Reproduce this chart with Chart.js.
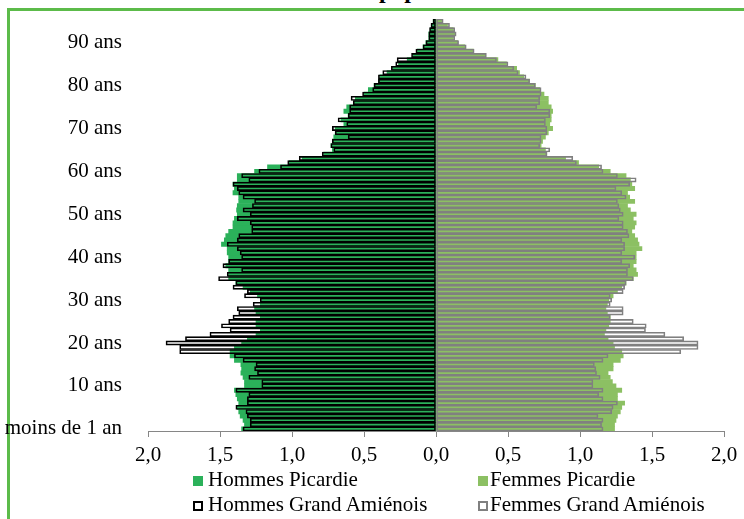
<!DOCTYPE html>
<html>
<head>
<meta charset="utf-8">
<script src="https://cdn.jsdelivr.net/npm/chart.js@4.4.1/dist/chart.umd.min.js"></script>
<style>
body{margin:0;background:#fff}
#wrap{position:relative;width:744px;height:519px;overflow:hidden;font-family:"Liberation Serif","Times New Roman",serif;color:#000}
#frame{position:absolute;left:7px;top:8px;width:760px;height:540px;border-top:3px solid #5cbb4a;border-left:3px solid #5cbb4a}
#title{position:absolute;left:379px;top:-22px;font-size:24px;line-height:24px;font-weight:bold;white-space:nowrap}
canvas{position:absolute;left:0;top:0}
.lg{position:absolute;font-size:21px;line-height:21px;white-space:nowrap}
.mk{position:absolute;width:10px;height:10px;box-sizing:border-box}
</style>
</head>
<body>
<div id="wrap">
<div id="title">population</div>
<div id="frame"></div>
<canvas id="chart" width="744" height="519"></canvas>
<div class="mk" style="left:193px;top:476px;background:#2bb15a"></div>
<div class="lg" style="left:208px;top:469px">Hommes Picardie</div>
<div class="mk" style="left:478px;top:476px;background:#8cc063"></div>
<div class="lg" style="left:490px;top:469px">Femmes Picardie</div>
<div class="mk" style="left:193px;top:501px;border:2px solid #000"></div>
<div class="lg" style="left:208px;top:494px">Hommes Grand Amiénois</div>
<div class="mk" style="left:478px;top:501px;border:2px solid #808080"></div>
<div class="lg" style="left:490px;top:494px">Femmes Grand Amiénois</div>
</div>
<script>
// ages 0 (moins de 1 an) to 95, bottom to top
const ages=Array.from({length:96},(_,i)=>i)

const tickLabels={0:"moins de 1 an",10:"10 ans",20:"20 ans",30:"30 ans",40:"40 ans",50:"50 ans",60:"60 ans",70:"70 ans",80:"80 ans",90:"90 ans"}

// % of population per age
const hommesPicardie=[
1.35,1.33,1.34,1.36,1.37,1.38,1.37,1.38,1.39,1.40,
1.33,1.33,1.34,1.355,1.35,1.355,1.40,1.43,1.43,1.40,
1.35,1.31,1.25,1.22,1.25,1.25,1.22,1.25,1.26,1.22,
1.21,1.24,1.29,1.34,1.39,1.44,1.44,1.44,1.46,1.44,
1.44,1.45,1.45,1.49,1.47,1.46,1.44,1.41,1.41,1.40,
1.38,1.385,1.38,1.37,1.37,1.41,1.40,1.41,1.38,1.38,
1.26,1.17,1.02,0.93,0.78,0.72,0.73,0.72,0.71,0.70,
0.70,0.64,0.66,0.61,0.64,0.62,0.57,0.56,0.50,0.47,
0.43,0.40,0.39,0.34,0.30,0.26,0.20,0.16,0.13,0.09,
0.07,0.05,0.05,0.04,0.03,0.02]

const hommesAmienois=[
1.34,1.29,1.29,1.31,1.32,1.39,1.31,1.31,1.30,1.39,
1.21,1.21,1.30,1.24,1.26,1.25,1.34,1.40,1.78,1.78,
1.875,1.74,1.57,1.43,1.49,1.44,1.41,1.37,1.38,1.27,
1.22,1.33,1.31,1.41,1.39,1.51,1.45,1.35,1.48,1.44,
1.35,1.36,1.38,1.45,1.38,1.37,1.28,1.28,1.29,1.38,
1.29,1.34,1.275,1.26,1.34,1.37,1.38,1.41,1.30,1.35,
1.23,1.08,1.03,0.95,0.79,0.71,0.73,0.72,0.61,0.70,
0.72,0.62,0.68,0.61,0.60,0.60,0.575,0.59,0.51,0.44,
0.43,0.40,0.40,0.37,0.31,0.28,0.27,0.17,0.14,0.09,
0.07,0.05,0.05,0.045,0.035,0.02]

const femmesPicardie=[
1.24,1.24,1.25,1.26,1.28,1.29,1.31,1.26,1.26,1.29,
1.25,1.225,1.21,1.195,1.23,1.23,1.28,1.30,1.29,1.24,
1.23,1.195,1.17,1.18,1.20,1.21,1.21,1.19,1.18,1.19,
1.20,1.23,1.26,1.29,1.32,1.37,1.40,1.39,1.37,1.39,
1.39,1.39,1.43,1.41,1.40,1.38,1.36,1.38,1.39,1.37,
1.39,1.35,1.33,1.38,1.345,1.33,1.38,1.36,1.35,1.32,
1.21,1.13,0.99,0.90,0.77,0.76,0.73,0.74,0.76,0.78,
0.81,0.79,0.80,0.80,0.81,0.80,0.78,0.78,0.75,0.72,
0.69,0.65,0.61,0.58,0.56,0.49,0.43,0.34,0.26,0.20,
0.15,0.12,0.13,0.12,0.08,0.04]

const femmesAmienois=[
1.16,1.15,1.16,1.125,1.22,1.23,1.26,1.16,1.13,1.16,
1.09,1.09,1.14,1.115,1.11,1.10,1.16,1.195,1.70,1.82,
1.82,1.72,1.59,1.455,1.46,1.37,1.21,1.30,1.30,1.21,
1.22,1.21,1.30,1.31,1.32,1.37,1.33,1.33,1.345,1.29,
1.38,1.29,1.31,1.31,1.29,1.34,1.33,1.30,1.30,1.27,
1.30,1.28,1.27,1.26,1.32,1.29,1.25,1.345,1.39,1.26,
1.16,1.15,0.975,0.95,0.77,0.79,0.72,0.73,0.73,0.77,
0.77,0.76,0.76,0.79,0.79,0.70,0.72,0.72,0.73,0.73,
0.69,0.65,0.625,0.57,0.54,0.50,0.42,0.35,0.265,0.21,
0.157,0.13,0.14,0.13,0.094,0.05]

const xTicks=[-2,-1.5,-1,-0.5,0,0.5,1,1.5,2]

Chart.defaults.font.family='"Liberation Serif","Times New Roman",serif'
Chart.defaults.font.size=21
Chart.defaults.color="#000"

const neg=a=>a.map(v=>-v)

new Chart(document.getElementById("chart"),{
type:"bar",
data:{
labels:ages,
datasets:[
{label:"Hommes Grand Amiénois",data:neg(hommesAmienois),backgroundColor:"rgba(0,0,0,0)",borderColor:"#000",borderWidth:1,borderSkipped:false,order:0},
{label:"Femmes Grand Amiénois",data:femmesAmienois,backgroundColor:"rgba(0,0,0,0)",borderColor:"#808080",borderWidth:1,borderSkipped:false,order:0},
{label:"Hommes Picardie",data:neg(hommesPicardie),backgroundColor:"#2bb15a",borderWidth:0,order:1},
{label:"Femmes Picardie",data:femmesPicardie,backgroundColor:"#8cc063",borderWidth:0,order:1}
]
},
options:{
indexAxis:"y",
responsive:false,
animation:false,
events:[],
layout:{padding:{left:0,top:19,right:20,bottom:0}},
plugins:{legend:{display:false},tooltip:{enabled:false}},
datasets:{bar:{grouped:false,categoryPercentage:1,barPercentage:1}},
scales:{
x:{
min:-2,max:2,
afterBuildTicks:s=>{s.ticks=xTicks.map(v=>({value:v}))},
ticks:{padding:6,callback:v=>Math.abs(v).toFixed(1).replace(".",",")},
grid:{drawOnChartArea:false,drawTicks:true,tickLength:6,color:"#868686"},
border:{display:true,color:"#868686",width:1},
afterFit:s=>{s.height=88}
},
y:{
reverse:true,
ticks:{autoSkip:false,padding:26,callback:(v,i)=>tickLabels[ages[i]]??""},
grid:{display:false,drawTicks:false},
border:{display:false},
afterFit:s=>{s.width=148;s.paddingTop=0;s.paddingBottom=0}
}
}
}
})
</script>
</body>
</html>
